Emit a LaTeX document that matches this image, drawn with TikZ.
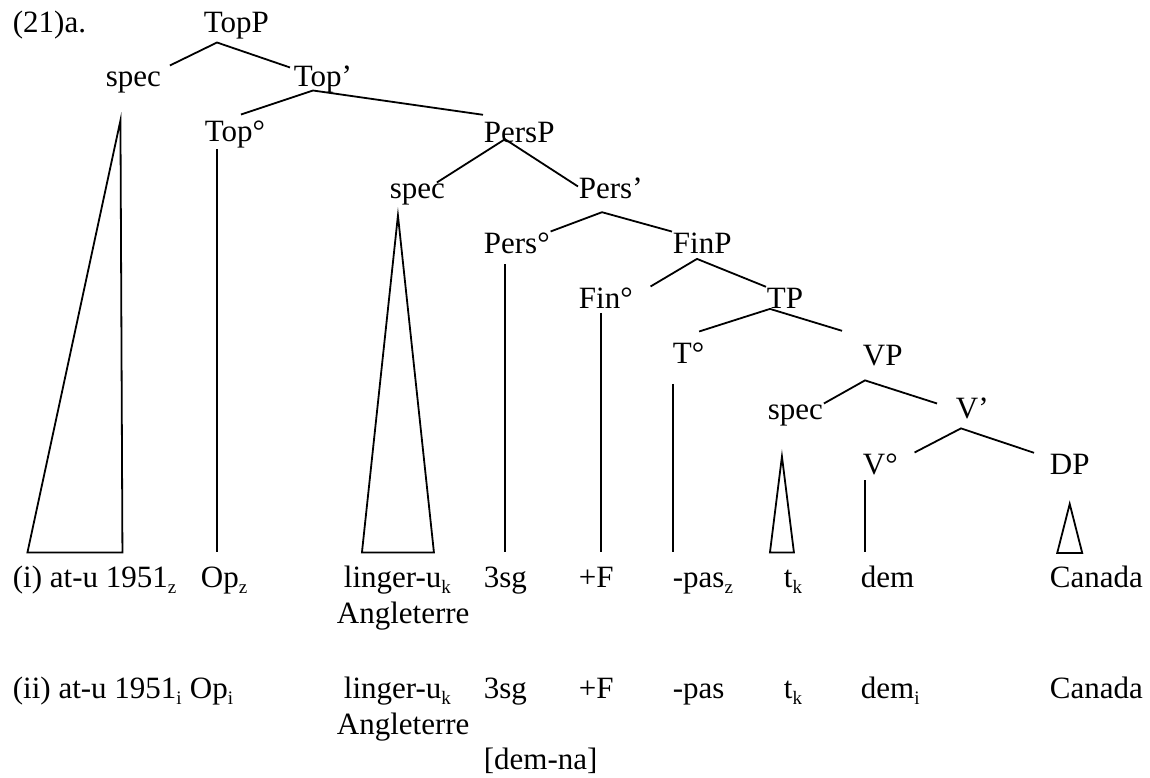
\documentclass[tikz,border=0pt]{standalone}
\usepackage{fontspec}
\setmainfont{Liberation Serif}
\newcommand{\ix}[1]{\raisebox{-6pt}{\fontsize{19}{19}\selectfont #1}}
\tikzset{lab/.style={inner sep=0pt, anchor=base west}}
\begin{document}
\begin{tikzpicture}[x=1pt,y=1pt,font=\fontsize{31}{37}\selectfont,line width=1.8pt]
        \useasboundingbox (0,0) rectangle (1150,-778);
        \coordinate (base) at (0,-552);

        %tree labels
        \node[lab] (ex) at (12,-33) {(21)a.};
        \node[lab] (topp) at (203,-33) {TopP};
        \node[lab] (spec1) at (105,-87) {spec};
        \node[lab] (topbar) at (293,-87) {Top’};
        \node[lab] (tophead) at (204,-142) {Top°};
        \node[lab] (persp) at (483,-143) {PersP};
        \node[lab] (spec2) at (389,-198) {spec};
        \node[lab] (persbar) at (578,-198) {Pers’};
        \node[lab] (pershead) at (483,-253) {Pers°};
        \node[lab] (finp) at (672,-253) {FinP};
        \node[lab] (finhead) at (578,-308) {Fin°};
        \node[lab] (tp) at (766,-308) {TP};
        \node[lab] (thead) at (672,-363) {T°};
        \node[lab] (vp) at (862,-365) {VP};
        \node[lab] (spec3) at (767,-419) {spec};
        \node[lab] (vbar) at (955,-418) {V’};
        \node[lab] (vhead) at (862,-474) {V°};
        \node[lab] (dp) at (1049,-474) {DP};

        %branches
        \draw ([shift={(8,6)}]spec1.north east) -- ([shift={(14,-2)}]topp.south west) -- ([shift={(-3,-2)}]topbar.north west);
        \draw ([shift={(6,6)}]tophead.north) -- ([shift={(20,4)}]topbar.south west) -- ([yshift=7]persp.north west);
        \draw ([xshift=-9]spec2.north east) -- ([shift={(22,5)}]persp.south west) -- ([yshift=-10]persbar.north west);
        \draw (pershead.north east) -- ([shift={(24,-13)}]persbar.south west) -- (finp.north west);
        \draw ([xshift=17]finhead.north east) -- ([shift={(25,-5)}]finp.south west) -- (tp.north west);
        \draw ([shift={(-6,10)}]thead.north east) -- ([xshift=4]tp.south west) -- ([shift={(-20,13)}]vp.north west);
        \draw (spec3.north east) -- ([shift={(3,-14)}]vp.south west) -- ([shift={(-18,-7)}]vbar.north west);
        \draw ([xshift=16]vhead.north east) -- ([shift={(6,-9)}]vbar.south west) -- ([xshift=-15]dp.north west);

        %heads down to the words
        \draw ([xshift=13]tophead.south west) coordinate (h1) -- (h1 |- base);
        \draw ([shift={(22,-10)}]pershead.south west) coordinate (h2) -- (h2 |- base);
        \draw ([shift={(23,-4)}]finhead.south west) coordinate (h3) -- (h3 |- base);
        \draw ([shift={(1,-20)}]thead.south west) coordinate (h4) -- (h4 |- base);
        \draw ([shift={(3,-5)}]vhead.south west) coordinate (h5) -- (h5 |- base);

        %triangles
        \draw ([shift={(-13,-26)}]spec1.south) -- ++(-93,-432) -- ++(95,0) -- cycle;
        \draw ([shift={(-19.5,-10)}]spec2.south) -- ++(-36,-337) -- ++(72,0) -- cycle;
        \draw ([shift={(-13.5,-30)}]spec3.south) -- ++(-12,-96) -- ++(24,0) -- cycle;
        \draw ([yshift=-29]dp.south) -- ++(-12.5,-49) -- ++(25,0) -- cycle;

        %row (i)
        \node[lab] (a1) at (12,-587) {(i) at-u 1951\ix{z}};
        \node[lab] (b1) at (200,-587) {Op\ix{z}};
        \node[lab] (c1) at (343,-587) {linger-u\ix{k}};
        \node[lab] (c1x) at (336,-623) {Angleterre};
        \node[lab] (d1) at (483,-587) {3sg};
        \node[lab] (e1) at (578,-587) {+F};
        \node[lab] (f1) at (672,-587) {-pas\ix{z}};
        \node[lab] (g1) at (783,-587) {t\ix{k}};
        \node[lab] (h1w) at (860,-587) {dem};
        \node[lab] (i1) at (1049,-587) {Canada};

        %row (ii)
        \node[lab] (a2) at (12,-698) {(ii) at-u 1951\ix{i}};
        \node[lab] (b2) at (189,-698) {Op\ix{i}};
        \node[lab] (c2) at (343,-698) {linger-u\ix{k}};
        \node[lab] (c2x) at (336,-734) {Angleterre};
        \node[lab] (d2) at (483,-698) {3sg};
        \node[lab] (d2x) at (483,-769) {[dem-na]};
        \node[lab] (e2) at (578,-698) {+F};
        \node[lab] (f2) at (672,-698) {-pas};
        \node[lab] (g2) at (783,-698) {t\ix{k}};
        \node[lab] (h2w) at (860,-698) {dem\ix{i}};
        \node[lab] (i2) at (1049,-698) {Canada};
    \end{tikzpicture}
\end{document}
